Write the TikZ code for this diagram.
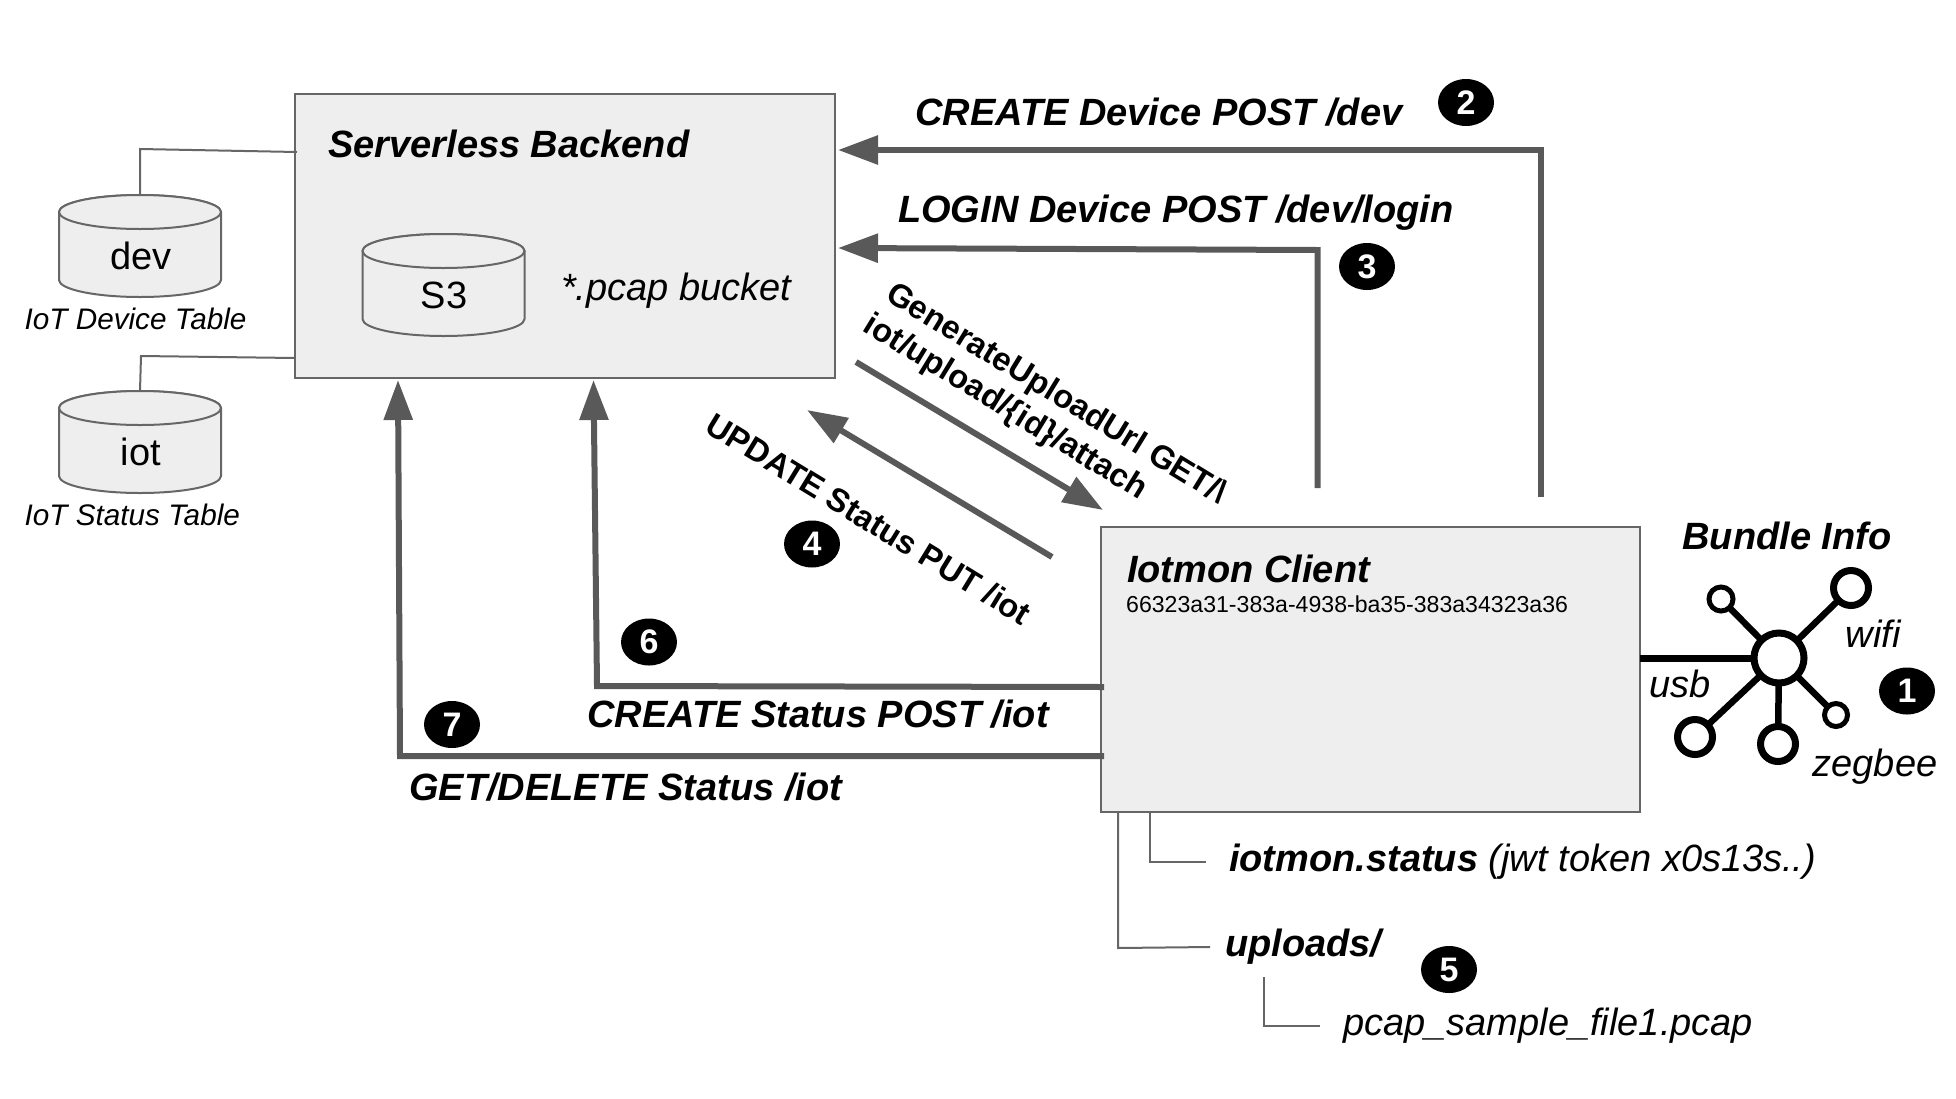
\documentclass[tikz,border=0pt]{standalone}
\usepackage{fontspec}
\setmainfont{Liberation Sans}
\usetikzlibrary{arrows.meta,shapes.geometric}
\definecolor{boxfill}{HTML}{EEEEEE}
\definecolor{boxline}{HTML}{666666}
\definecolor{arrowgray}{HTML}{595959}
\newcommand{\fsz}[1]{\fontsize{#1pt}{1.1\dimexpr #1pt\relax}\selectfont}
\tikzset{
  panel/.style={draw=boxline,fill=boxfill,line width=2pt,inner sep=0pt,outer sep=0pt},
  thinline/.style={draw=boxline,line width=2pt},
  flow/.style={draw=arrowgray,line width=6pt,-{Triangle[length=40pt,width=28pt]}},
  badge/.style={ellipse,fill=black,inner sep=0pt,minimum width=56pt,minimum height=47pt,text=white,font=\fsz{34}\bfseries},
  lbl/.style={inner sep=0pt,font=\fsz{38}\bfseries\itshape},
  lblit/.style={inner sep=0pt,font=\fsz{38}\itshape},
  lblreg/.style={inner sep=0pt,font=\fsz{38}},
  tablelbl/.style={inner sep=0pt,font=\fsz{29.7}\itshape,anchor=west},
  slant/.style={inner sep=0pt,font=\fsz{32.7}\bfseries,rotate=-31.5,align=center},
  hub/.style={circle,draw=black,fill=white,line width=7pt,inner sep=0pt,outer sep=0pt},
  spoke/.style={draw=black,line width=6.5pt}
}
\newcommand{\cylbody}[3]{% x, y of top centre, y of bottom centre
  \path[panel] (#1-81,#2) -- (#1-81,#3) arc[start angle=180,end angle=360,x radius=81pt,y radius=17pt]
     -- (#1+81,#2) arc[start angle=0,end angle=180,x radius=81pt,y radius=17pt] -- cycle;
  \path[panel] (#1,#2) ellipse[x radius=81pt,y radius=17pt];
}
\begin{document}
\begin{tikzpicture}[x=1pt,y=-1pt]
\useasboundingbox (0,0) rectangle (1956,1098);
% boxes
\node[panel,minimum width=540pt,minimum height=284pt] (backend) at (565,236) {};
\node[panel,minimum width=539pt,minimum height=285pt] (client) at (1370,669) {};
% cylinders
\cylbody{140}{212}{280}
\cylbody{140}{408}{476}
\cylbody{443.5}{251}{319}
\coordinate (devtop) at (140,195);
\coordinate (iottop) at (140,391);
\node[lblreg] (devname) at (141,256) {dev};
\node[lblreg] (iotname) at (141,452) {iot};
\node[lblreg] (s3name) at (444,295) {S3};
\node[tablelbl] (devtable) at (24.5,319) {IoT Device Table};
\node[tablelbl] (iottable) at (24.5,514.5) {IoT Status Table};
\node[lbl,anchor=west] (backendname) at (328,144) {Serverless Backend};
\node[lblit,anchor=west] (bucket) at (561,290.5) {*.pcap bucket};
% table links
\coordinate (devbend) at (140,149);
\coordinate (devend) at (297,152);
\coordinate (iotbend) at (141,356);
\coordinate (iotend) at (295,358);
\draw[thinline] (devtop) -- (devbend) -- (devend);
\draw[thinline] (iottop) -- (iotbend) -- (iotend);
% client text
\node[inner sep=0pt,font=\fsz{38}\bfseries\itshape,anchor=west] (clientname) at (1127,569) {Iotmon Client};
\node[inner sep=0pt,font=\fsz{23.1},anchor=west] (uuid) at (1126,604.5) {66323a31-383a-4938-ba35-383a34323a36};
% flow arrows
\coordinate (a2s) at (1541,497); \coordinate (a2b) at (1541,150); \coordinate (a2e) at (838,150);
\draw[flow] (a2s) -- (a2b) -- (a2e);
\coordinate (a3s) at (1317.5,488); \coordinate (a3b) at (1317.5,250); \coordinate (a3e) at (838,248);
\draw[flow] (a3s) -- (a3b) -- (a3e);
\coordinate (gs) at (856,362); \coordinate (ge) at (1103,510);
\draw[flow] (gs) -- (ge);
\coordinate (us) at (1052,557); \coordinate (ue) at (807,410);
\draw[flow] (us) -- (ue);
\coordinate (a6s) at (1104,687); \coordinate (a6b) at (597,686); \coordinate (a6e) at (593.5,380);
\draw[flow] (a6s) -- (a6b) -- (a6e);
\coordinate (a7s) at (1104,756); \coordinate (a7b) at (400,756); \coordinate (a7e) at (398,380);
\draw[flow] (a7s) -- (a7b) -- (a7e);
% flow labels
\node[lbl,anchor=west] (l2) at (915,112) {CREATE Device POST /dev};
\node[lbl,anchor=west] (l3) at (898,212.5) {LOGIN Device POST /dev/login};
\node[slant] (lg1) at (1056,395) {GenerateUploadUrl GET/\textbackslash};
\node[slant] (lg2) at (1005,408) {iot/upload/\{id\}/attach};
\node[slant] (lu) at (869,519) {UPDATE Status PUT /iot};
\node[lbl,anchor=west] (l6) at (587,714) {CREATE Status POST /iot};
\node[lbl,anchor=west] (l7) at (409,787) {GET/DELETE Status /iot};
% badges
\node[badge] (b1) at (1907,691) {1};
\node[badge] (b2) at (1466,102.5) {2};
\node[badge] (b3) at (1367,266.5) {3};
\node[badge] (b4) at (812,544) {4};
\node[badge] (b5) at (1449,969.5) {5};
\node[badge] (b6) at (649,642) {6};
\node[badge] (b7) at (452,724.5) {7};
% bundle icon
\node[hub,minimum size=50pt] (hubc) at (1779,658) {};
\node[hub,minimum size=24pt,line width=5pt] (s1) at (1721,599) {};
\node[hub,minimum size=35pt] (s2) at (1851,588) {};
\node[hub,minimum size=35pt] (s3) at (1695,737) {};
\node[hub,minimum size=35pt] (s4) at (1778,744) {};
\node[hub,minimum size=23pt,line width=5pt] (s5) at (1836,715) {};
\draw[spoke] (hubc) -- (s1);
\draw[spoke] (hubc) -- (s2);
\draw[spoke] (hubc) -- (s3);
\draw[spoke] (hubc) -- (s4);
\draw[spoke] (hubc) -- (s5);
\draw[draw=black,line width=7pt] (client.east |- hubc) -- (hubc);
\node[lbl,anchor=center] (bundle) at (1787,536) {Bundle Info};
\node[lblit] (wifi) at (1873,634) {wifi};
\node[lblit] (usb) at (1680,683.5) {usb};
\node[lblit] (zeg) at (1875,766.5) {zegbee};
% file tree
\node[anchor=west,inner sep=0pt,font=\fsz{38}] (status) at (1229,862) {\bfseries\itshape iotmon.status \mdseries(jwt token x0s13s..)};
\node[lbl,anchor=west] (uploads) at (1225,947) {uploads/};
\node[lblit,anchor=west] (pcapfile) at (1343,1026) {pcap\_sample\_file1.pcap};
\coordinate (t1a) at (1150,812); \coordinate (t1b) at (1150,862); \coordinate (t1c) at (1206,862);
\coordinate (t2a) at (1118,812); \coordinate (t2b) at (1118,948); \coordinate (t2c) at (1210,947);
\coordinate (t3a) at (1264,977); \coordinate (t3b) at (1264,1026); \coordinate (t3c) at (1320,1026);
\draw[thinline] (t1a) -- (t1b) -- (t1c);
\draw[thinline] (t2a) -- (t2b) -- (t2c);
\draw[thinline] (t3a) -- (t3b) -- (t3c);
\end{tikzpicture}
\end{document}
